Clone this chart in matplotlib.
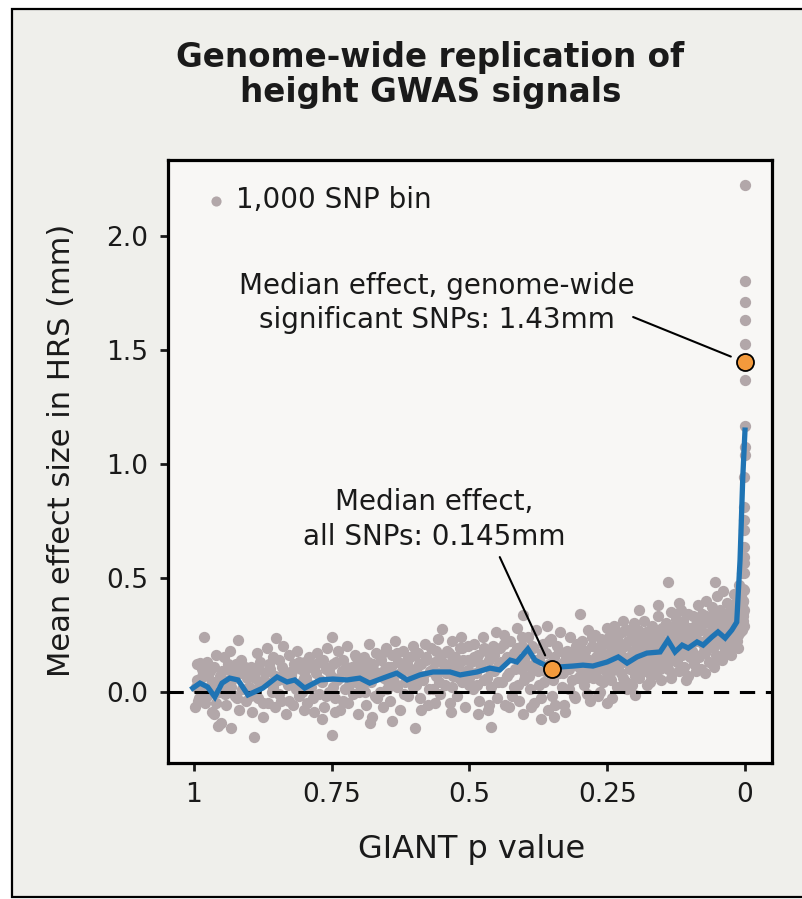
import matplotlib
matplotlib.use("Agg")
import matplotlib.pyplot as plt
from matplotlib.patches import Rectangle

# -----------------------------
# Data
# -----------------------------
# 1,000 SNP bins: GIANT p value vs mean effect size in HRS (mm)
bin_p = [
    0.998, 0.997, 0.994, 0.991, 0.989, 0.987, 0.984, 0.981, 0.979, 0.976, 0.973, 0.971, 0.968, 0.966, 0.963, 0.960, 0.956, 0.953,
    0.950, 0.948, 0.945, 0.942, 0.940, 0.937, 0.934, 0.932, 0.929, 0.926, 0.923, 0.920, 0.918, 0.915, 0.912, 0.909, 0.906, 0.903,
    0.900, 0.897, 0.894, 0.891, 0.889, 0.886, 0.883, 0.880, 0.877, 0.874, 0.871, 0.868, 0.865, 0.862, 0.859, 0.856, 0.853, 0.851,
    0.848, 0.845, 0.842, 0.839, 0.836, 0.833, 0.830, 0.827, 0.824, 0.821, 0.818, 0.815, 0.812, 0.809, 0.806, 0.803, 0.801, 0.799,
    0.797, 0.794, 0.791, 0.788, 0.785, 0.782, 0.779, 0.776, 0.773, 0.770, 0.767, 0.764, 0.761, 0.758, 0.755, 0.752, 0.750, 0.750,
    0.747, 0.744, 0.741, 0.738, 0.735, 0.732, 0.729, 0.726, 0.723, 0.720, 0.717, 0.714, 0.711, 0.708, 0.705, 0.702, 0.700, 0.697,
    0.694, 0.691, 0.688, 0.685, 0.683, 0.681, 0.678, 0.675, 0.672, 0.669, 0.666, 0.663, 0.660, 0.657, 0.654, 0.652, 0.650,
    0.647, 0.644, 0.641, 0.638, 0.635, 0.632, 0.629, 0.626, 0.623, 0.620, 0.617, 0.614, 0.611, 0.608, 0.605, 0.602, 0.599, 0.599,
    0.596, 0.593, 0.590, 0.587, 0.584, 0.581, 0.578, 0.575, 0.572, 0.569, 0.566, 0.563, 0.560, 0.557, 0.554, 0.551, 0.550,
    0.547, 0.544, 0.541, 0.538, 0.535, 0.532, 0.529, 0.526, 0.523, 0.520, 0.517, 0.514, 0.511, 0.508, 0.505, 0.502, 0.500,
    0.497, 0.494, 0.491, 0.488, 0.485, 0.482, 0.479, 0.476, 0.473, 0.470, 0.467, 0.464, 0.461, 0.460, 0.458, 0.455, 0.452, 0.450,
    0.447, 0.444, 0.441, 0.438, 0.435, 0.432, 0.429, 0.426, 0.423, 0.420, 0.417, 0.414, 0.411, 0.408, 0.405, 0.403, 0.402, 0.400,
    0.397, 0.394, 0.391, 0.388, 0.385, 0.382, 0.379, 0.376, 0.373, 0.370, 0.367, 0.364, 0.361, 0.358, 0.355, 0.352, 0.350, 0.350,
    0.347, 0.344, 0.341, 0.338, 0.335, 0.332, 0.329, 0.326, 0.323, 0.320, 0.317, 0.314, 0.311, 0.308, 0.305, 0.302, 0.300, 0.299,
    0.297, 0.295, 0.292, 0.290, 0.287, 0.285, 0.282, 0.280, 0.277, 0.275, 0.272, 0.270, 0.267, 0.265, 0.262, 0.260, 0.257, 0.255,
    0.253, 0.251, 0.251, 0.250,
    0.248, 0.246, 0.244, 0.241, 0.239, 0.237, 0.234, 0.232, 0.230, 0.227, 0.225, 0.223, 0.221, 0.221, 0.218, 0.216, 0.213, 0.211,
    0.209, 0.206, 0.204, 0.202, 0.200, 0.200,
    0.198, 0.196, 0.194, 0.192, 0.190, 0.188, 0.186, 0.184, 0.182, 0.180, 0.178, 0.176, 0.174, 0.172, 0.170, 0.168, 0.166, 0.164,
    0.162, 0.160, 0.158, 0.156, 0.154, 0.152, 0.151, 0.150,
    0.148, 0.146, 0.144, 0.142, 0.140, 0.139, 0.138, 0.136, 0.134, 0.132, 0.130, 0.128, 0.126, 0.124, 0.122, 0.120, 0.118, 0.116,
    0.114, 0.112, 0.110, 0.108, 0.106, 0.104, 0.103, 0.102, 0.101, 0.100,
    0.098, 0.096, 0.094, 0.092, 0.090, 0.088, 0.086, 0.084, 0.082, 0.080, 0.078, 0.076, 0.074, 0.072, 0.070, 0.068, 0.066, 0.064,
    0.062, 0.060, 0.058, 0.056, 0.054, 0.054, 0.052, 0.051, 0.050, 0.050, 0.049, 0.048,
    0.046, 0.044, 0.042, 0.040, 0.038, 0.036, 0.034, 0.032, 0.030, 0.028, 0.026, 0.024, 0.022, 0.020, 0.018, 0.016, 0.015, 0.014,
    0.012, 0.011, 0.010, 0.009, 0.008, 0.007, 0.006, 0.006, 0.005, 0.004, 0.004, 0.003,
]
bin_effect = [
    -0.07, 0.02, 0.12, -0.03, 0.125, 0.06, 0.08, 0.24, -0.05, 0.13, 0.00, 0.09, -0.09, 0.04, -0.10, 0.16, -0.15, 0.07,
    -0.14, 0.03, 0.15, -0.06, 0.10, 0.05, 0.18, -0.16, 0.08, -0.02, 0.12, 0.226, -0.08, 0.14, 0.01, 0.09, -0.04, 0.06,
    0.02, 0.11, -0.09, -0.20, 0.06, 0.17, -0.03, 0.13, 0.04, -0.11, 0.08, 0.19, -0.05, 0.10, 0.00, 0.15, -0.07, 0.234,
    0.05, 0.14, -0.04, 0.20, 0.09, -0.10, 0.03, 0.16, 0.07, -0.06, 0.12, 0.01, 0.18, -0.02, 0.10, 0.04, -0.08, 0.13,
    0.06, -0.05, 0.15, 0.02, 0.11, -0.09, 0.08, 0.17, -0.01, 0.13, 0.04, -0.07, 0.10, 0.19, 0.00, 0.07, 0.241, -0.191,
    0.12, -0.03, 0.05, 0.18, -0.08, 0.09, 0.14, 0.01, 0.20, -0.05, 0.07, 0.11, -0.01, 0.16, 0.04, -0.10, 0.13, 0.08,
    0.03, 0.15, -0.06, 0.10, 0.21, -0.138, 0.06, 0.12, -0.02, 0.17, 0.08, 0.00, 0.14, -0.07, 0.10, 0.19, 0.05,
    0.11, -0.04, 0.16, 0.07, 0.22, 0.02, 0.13, -0.08, 0.09, 0.18, 0.04, 0.12, -0.02, 0.15, 0.06, 0.20, 0.10, -0.160,
    0.08, 0.17, -0.03, 0.12, 0.05, 0.21, 0.14, -0.06, 0.09, 0.19, 0.01, 0.13, 0.07, 0.23, -0.01, 0.16, 0.273,
    0.10, 0.03, 0.18, 0.12, -0.05, 0.22, 0.07, 0.15, -0.02, 0.11, 0.19, 0.04, 0.14, -0.067, 0.09, 0.20, 0.06,
    0.13, 0.01, 0.21, 0.08, 0.16, -0.04, 0.11, 0.24, 0.05, 0.18, -0.08, 0.14, 0.02, -0.155, 0.20, 0.09, 0.26, -0.03,
    0.12, 0.19, 0.04, 0.25, -0.06, 0.15, 0.08, 0.22, -0.02, 0.17, 0.10, 0.28, 0.03, 0.13, 0.20, -0.10, 0.336, 0.07,
    0.16, 0.24, 0.01, 0.11, 0.19, -0.05, 0.27, 0.09, 0.14, -0.12, 0.21, 0.04, 0.17, -0.08, 0.12, 0.23, -0.02, 0.06,
    0.15, -0.06, 0.20, 0.08, 0.26, 0.02, 0.13, -0.09, 0.18, 0.10, 0.24, 0.05, 0.16, -0.03, 0.21, 0.11, 0.341, 0.07,
    0.14, 0.22, 0.03, 0.18, 0.09, 0.27, -0.04, 0.12, 0.20, 0.06, 0.25, 0.15, -0.02, 0.10, 0.23, 0.17, 0.04, 0.21,
    0.13, 0.28, -0.052, 0.08,
    0.16, 0.24, 0.05, 0.19, 0.11, 0.29, 0.14, 0.02, 0.22, 0.17, 0.08, 0.26, 0.13, 0.311, 0.20, 0.04, 0.27, 0.15,
    0.10, 0.23, 0.18, 0.30, 0.07, -0.015,
    0.21, 0.12, 0.27, 0.06, 0.18, 0.24, 0.15, 0.31, 0.09, 0.20, 0.03, 0.26, 0.14, 0.22, 0.11, 0.29, 0.17, 0.08,
    0.25, 0.19, 0.33, 0.13, 0.23, 0.05, 0.28, 0.16,
    0.22, 0.14, 0.30, 0.19, 0.10, 0.483, 0.26, 0.17, 0.35, 0.08, 0.24, 0.20, 0.32, 0.13, 0.27, 0.09, 0.21, 0.36,
    0.16, 0.29, 0.11, 0.25, 0.19, 0.34, 0.07, 0.23, 0.28, 0.15,
    0.26, 0.18, 0.33, 0.12, 0.29, 0.22, 0.38, 0.15, 0.27, 0.10, 0.34, 0.21, 0.30, 0.17, 0.40, 0.24, 0.13, 0.31,
    0.26, 0.37, 0.19, 0.28, 0.483, 0.35, 0.22, 0.14, 0.32, 0.42, 0.25, 0.29,
    0.36, 0.21, 0.30, 0.44, 0.27, 0.18, 0.33, 0.39, 0.24, 0.31, 0.20, 0.37, 0.28, 0.43, 0.25, 0.34, 0.22, 0.40,
    0.30, 0.36, 0.47, 0.26, 0.33, 0.42, 0.29, 0.52, 0.38, 0.45, 0.31, 0.40,
]

# more bins filling the core of the band
core_p = [
    0.995, 0.992, 0.986, 0.982, 0.977, 0.974, 0.969, 0.964, 0.959, 0.954, 0.949, 0.944, 0.938, 0.933, 0.927, 0.921, 0.914, 0.907,
    0.898, 0.892, 0.887, 0.881, 0.875, 0.869, 0.863, 0.857, 0.852, 0.846, 0.840, 0.834, 0.828, 0.822, 0.816, 0.810, 0.804, 0.800,
    0.796, 0.790, 0.784, 0.778, 0.772, 0.766, 0.760, 0.754, 0.748, 0.742, 0.736, 0.730, 0.724, 0.718, 0.712, 0.706, 0.701, 0.698,
    0.744, 0.768,
    0.696, 0.690, 0.684, 0.679, 0.673, 0.667, 0.661, 0.655, 0.649, 0.643, 0.637, 0.631, 0.625, 0.619, 0.613, 0.607, 0.603, 0.600,
    0.676, 0.640,
    0.597, 0.591, 0.585, 0.579, 0.573, 0.567, 0.561, 0.555, 0.549, 0.543, 0.537, 0.531, 0.525, 0.519, 0.513, 0.507, 0.503, 0.501,
    0.588, 0.562, 0.533, 0.515,
    0.498, 0.492, 0.486, 0.480, 0.474, 0.468, 0.462, 0.456, 0.449, 0.443, 0.437, 0.431, 0.425, 0.419, 0.413, 0.407, 0.404, 0.401,
    0.484, 0.465, 0.428, 0.410,
    0.398, 0.392, 0.386, 0.380, 0.374, 0.368, 0.362, 0.356, 0.349, 0.343, 0.337, 0.331, 0.325, 0.319, 0.313, 0.307, 0.303, 0.301,
    0.389, 0.371, 0.346, 0.328, 0.310, 0.359,
    0.298, 0.293, 0.288, 0.283, 0.278, 0.273, 0.268, 0.263, 0.258, 0.254, 0.249, 0.245, 0.240, 0.235, 0.231, 0.226, 0.222, 0.217,
    0.212, 0.208, 0.203, 0.201, 0.286, 0.264, 0.242, 0.228, 0.215, 0.205,
    0.199, 0.195, 0.191, 0.187, 0.183, 0.179, 0.175, 0.171, 0.167, 0.163, 0.159, 0.155, 0.151, 0.147, 0.143, 0.141, 0.137, 0.133,
    0.129, 0.125, 0.121, 0.117, 0.113, 0.109, 0.105, 0.101, 0.193, 0.173, 0.157, 0.135, 0.119, 0.107,
    0.099, 0.095, 0.091, 0.087, 0.083, 0.079, 0.075, 0.071, 0.067, 0.063, 0.059, 0.055, 0.053, 0.047, 0.043, 0.039, 0.035, 0.031,
    0.027, 0.023, 0.019, 0.017, 0.013, 0.011, 0.009, 0.007, 0.005, 0.003, 0.002, 0.002, 0.089, 0.073, 0.057, 0.041, 0.025, 0.013,
]
core_effect = [
    0.05, -0.04, 0.10, 0.01, -0.02, 0.07, 0.03, 0.11, -0.05, 0.00, 0.09, -0.01, 0.12, 0.02, 0.06, -0.03, 0.08, 0.11,
    -0.02, 0.08, 0.01, 0.10, -0.05, 0.04, 0.12, 0.02, 0.07, -0.01, 0.11, 0.05, -0.04, 0.09, 0.03, 0.13, 0.00, 0.06,
    0.10, 0.03, -0.03, 0.12, 0.05, 0.14, -0.02, 0.09, 0.02, 0.13, 0.06, -0.04, 0.11, 0.03, 0.08, 0.15, 0.00, 0.10,
    -0.09, -0.12,
    0.07, 0.00, 0.13, 0.04, 0.09, -0.03, 0.16, 0.06, 0.01, 0.11, 0.04, 0.17, 0.08, -0.01, 0.14, 0.09, 0.02, 0.16,
    -0.11, -0.13,
    0.03, 0.12, 0.07, 0.15, 0.01, 0.10, 0.18, 0.04, 0.13, 0.08, 0.17, 0.02, 0.11, 0.06, 0.19, 0.09, 0.14, 0.03,
    -0.08, -0.05, -0.09, 0.24,
    0.08, 0.15, 0.03, 0.12, 0.19, 0.06, 0.10, 0.16, 0.04, 0.13, 0.21, 0.07, 0.15, 0.02, 0.19, 0.10, 0.24, 0.05,
    -0.10, -0.06, -0.07, -0.04,
    0.12, 0.07, 0.20, 0.14, 0.03, 0.17, 0.09, 0.22, 0.05, 0.12, 0.18, 0.08, 0.15, 0.01, 0.13, 0.20, 0.06, 0.16,
    -0.07, -0.03, -0.11, -0.06, -0.02, 0.29,
    0.10, 0.17, 0.06, 0.14, 0.24, 0.09, 0.19, 0.05, 0.15, 0.11, 0.21, 0.08, 0.16, 0.25, 0.10, 0.19, 0.06, 0.14,
    0.22, 0.12, 0.17, 0.26, -0.01, 0.00, -0.03, 0.02, 0.01, 0.03,
    0.16, 0.23, 0.10, 0.19, 0.13, 0.26, 0.17, 0.07, 0.21, 0.15, 0.24, 0.10, 0.20, 0.27, 0.16, 0.12, 0.22, 0.18,
    0.29, 0.14, 0.24, 0.19, 0.31, 0.17, 0.26, 0.21, 0.36, 0.04, 0.38, 0.06, 0.39, 0.05,
    0.20, 0.25, 0.16, 0.31, 0.22, 0.27, 0.18, 0.33, 0.23, 0.20, 0.29, 0.24, 0.16, 0.27, 0.23, 0.32, 0.26, 0.21,
    0.35, 0.30, 0.27, 0.33, 0.25, 0.29, 0.35, 0.31, 0.27, 0.33, 0.36, 0.29, 0.09, 0.08, 0.11, 0.14, 0.16, 0.19,
]

# genome-wide significant bins stacked at p ~ 0
tail_p = [0.0, 0.0, 0.0, 0.0, 0.0, 0.0, 0.0, 0.0, 0.0, 0.001, 0.001, 0.001, 0.001, 0.002, 0.002, 0.002, 0.002, 0.002, 0.003, 0.003]
tail_effect = [2.225, 1.806, 1.714, 1.634, 1.529, 1.370, 1.167, 1.075, 1.040, 0.943, 0.810, 0.753, 0.709, 0.634,
               0.590, 0.564, 0.520, 0.445, 0.400, 0.344]

# running mean (blue line)
trend_p = [1.002, 0.989, 0.975, 0.962, 0.949, 0.935, 0.920, 0.902, 0.875, 0.849, 0.831, 0.817, 0.799, 0.771,
           0.748, 0.722, 0.699, 0.681, 0.657, 0.632, 0.613, 0.590, 0.566, 0.535, 0.517, 0.486, 0.463, 0.445,
           0.426, 0.414, 0.394, 0.381, 0.363, 0.350, 0.336, 0.312, 0.294, 0.276, 0.250, 0.230, 0.214, 0.196,
           0.178, 0.154, 0.140, 0.127, 0.114, 0.103, 0.087, 0.076, 0.060, 0.049, 0.036, 0.024, 0.015, 0.009,
           0.004, 0.000]
trend_effect = [0.015, 0.037, 0.020, -0.024, 0.037, 0.059, 0.051, -0.015, 0.015, 0.064, 0.042, 0.051, 0.015, 0.051,
                0.055, 0.051, 0.059, 0.037, 0.059, 0.081, 0.051, 0.073, 0.086, 0.086, 0.073, 0.086, 0.103, 0.095,
                0.138, 0.130, 0.187, 0.138, 0.116, 0.099, 0.108, 0.112, 0.116, 0.112, 0.130, 0.152, 0.125, 0.152,
                0.169, 0.174, 0.226, 0.174, 0.204, 0.191, 0.218, 0.204, 0.240, 0.262, 0.235, 0.270, 0.305, 0.578,
                0.943, 1.149]

# median effects (orange points): all SNPs, genome-wide significant SNPs
median_p = [0.351, 0.0]
median_effect = [0.098, 1.447]

x_ticks = [1, 0.75, 0.5, 0.25, 0]
x_tick_labels = ["1", "0.75", "0.5", "0.25", "0"]
y_ticks = [0.0, 0.5, 1.0, 1.5, 2.0]
y_tick_labels = ["0.0", "0.5", "1.0", "1.5", "2.0"]

# -----------------------------
# Styling
# -----------------------------
BG_OUTER = "#efefeb"
BG_AXES = "#f8f7f5"
GREY = "#b2a7a9"
BLUE = "#1f74b4"
ORANGE = "#f39a3c"
INK = "#1a1a1a"

plt.rcParams["font.family"] = ["DejaVu Sans"]

fig = plt.figure(figsize=(8.03, 8.99), dpi=100, facecolor="white")
fig.add_artist(Rectangle((0.015, 0.002), 1.0, 0.988, transform=fig.transFigure,
                         facecolor=BG_OUTER, edgecolor="black", linewidth=1.6, zorder=-5))

ax = fig.add_axes([0.2092, 0.1513, 0.7522, 0.6707])
ax.set_facecolor(BG_AXES)

# points
ax.scatter(bin_p + core_p + tail_p, bin_effect + core_effect + tail_effect, s=66, color=GREY,
           linewidths=0, zorder=2, label="1,000 SNP bin")
ax.axhline(0, color="black", linewidth=2.2, dashes=(5, 3.5), zorder=3)
ax.plot(trend_p, trend_effect, color=BLUE, linewidth=3.8, solid_joinstyle="miter", zorder=4)
ax.scatter(median_p, median_effect, s=150, color=ORANGE, edgecolors="black", linewidths=1.3, zorder=6)

# annotations
ax.annotate("Median effect, genome-wide\nsignificant SNPs: 1.43mm", xy=(0.559, 1.708),
            ha="center", va="center", fontsize=20, linespacing=1.3, color=INK)
ax.annotate("", xy=(median_p[1], median_effect[1]), xytext=(0.203, 1.646),
            arrowprops=dict(arrowstyle="-", color="black", lw=1.5, shrinkA=0, shrinkB=11))
ax.annotate("Median effect,\nall SNPs: 0.145mm", xy=(0.564, 0.756),
            ha="center", va="center", fontsize=20, linespacing=1.3, color=INK)
ax.annotate("", xy=(median_p[0], median_effect[0]), xytext=(0.445, 0.591),
            arrowprops=dict(arrowstyle="-", color="black", lw=1.5, shrinkA=0, shrinkB=11))

ax.legend(loc="upper left", bbox_to_anchor=(0.066, 0.957), frameon=False, fontsize=20,
          handlelength=0.6, handletextpad=0.4, borderpad=0, borderaxespad=0,
          scatterpoints=1, markerscale=0.9, labelcolor=INK)

# axes
ax.set_xlim(1.047, -0.049)
ax.set_ylim(-0.314, 2.336)
ax.set_xticks(x_ticks)
ax.set_xticklabels(x_tick_labels)
ax.set_yticks(y_ticks)
ax.set_yticklabels(y_tick_labels)
ax.tick_params(axis="both", direction="out", length=6, width=2, labelsize=19, pad=8, colors=INK)
for sp in ax.spines.values():
    sp.set_linewidth(2.3)
    sp.set_color("black")

ax.set_xlabel("GIANT p value", fontsize=23, va="center", color=INK)
ax.xaxis.set_label_coords(0.503, -0.144)
ax.set_ylabel("Mean effect size in HRS (mm)", fontsize=22, va="center", color=INK)
ax.yaxis.set_label_coords(-0.1755, 0.519)

fig.text(0.536, 0.9166, "Genome-wide replication of\nheight GWAS signals", ha="center", va="center",
         fontsize=23.5, fontweight="bold", linespacing=1.05, color=INK)

plt.savefig("out.png", dpi=100, facecolor=fig.get_facecolor())
